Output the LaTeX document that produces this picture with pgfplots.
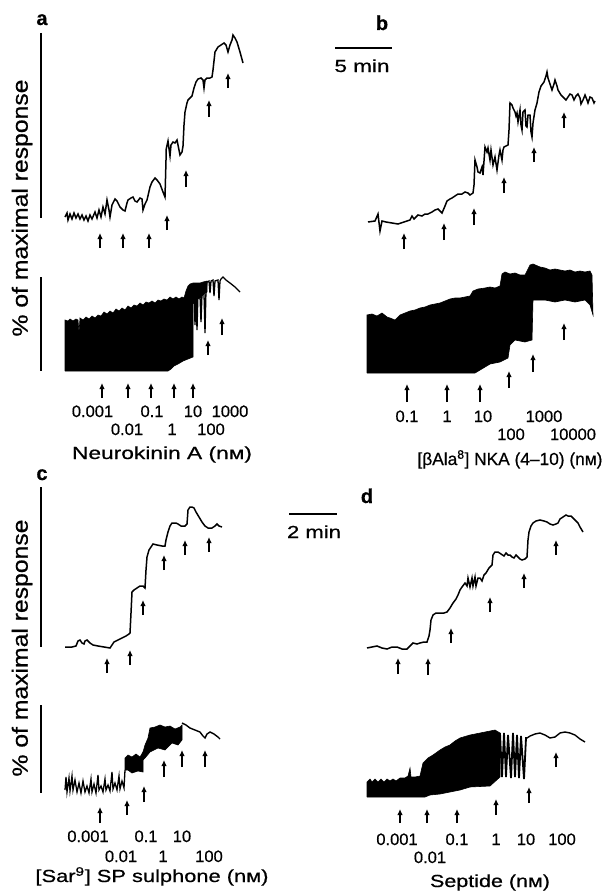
\documentclass[border=0pt]{standalone}
\usepackage{fontspec}
\setmainfont{Liberation Sans}[FakeBold=0.6]
\newfontfamily\boldlet{Liberation Sans Bold}[FakeBold=0.5]
\usepackage{graphicx}
\usepackage{pgfplots}
\pgfplotsset{compat=1.18}
\usetikzlibrary{arrows.meta}
\newcommand{\dg}[1]{{\fontsize{16.5}{16.5}\selectfont #1}}
\newcommand{\ttl}[2]{\resizebox{#1}{\height}{\fontsize{17.5}{17.5}\selectfont #2}}
\begin{document}
\begin{tikzpicture}
\useasboundingbox (0,0) rectangle (605pt,891pt);
\begin{axis}[width=605pt,height=891pt,scale only axis,
  xmin=0,xmax=605,ymin=0,ymax=891,y dir=reverse,hide axis,clip=false]
% ---------- scale bars ----------
\addplot[black,line width=2.2pt] coordinates {(41,33) (41,218)};
\addplot[black,line width=2.2pt] coordinates {(41,277) (41,371)};
\addplot[black,line width=2.2pt] coordinates {(41,487) (41,647)};
\addplot[black,line width=2.2pt] coordinates {(41,705) (41,793)};
\addplot[black,line width=1.6pt] coordinates {(335,48) (392,48)};
\addplot[black,line width=1.6pt] coordinates {(289,514) (337,514)};
% ---------- panel a upper ----------
\addplot[black,line width=1.5pt] coordinates {(65,217)(67,213)(68,220)(70,214)(72,219)(74,213)(76,218)(78,214)(80,219)(82,215)(84,220)(86,216)(88,221)(90,215)(92,219)(95,212)(97,218)(99,210)(101,217)(103,207)(105,214)(107,200)(109,210)(110,217)(112,205)(113,203)(115,199)(117,201)(120,207)(123,210)(125,211)(127,203)(128,200)(131,198)(133,197)(135,201)(137,202)(140,198)(142,199)(143,210)(145,204)(147,200)(150,187)(152,182)(155,178)(157,180)(160,184)(163,192)(165,197)(166,160)(166,150)(168,141)(170,156)(171,145)(173,142)(175,143)(177,140)(179,150)(180,155)(182,152)(183,146)(184,125)(185,112)(187,103)(188,100)(190,98)(192,96)(194,88)(196,82)(198,79)(201,78)(203,80)(204,88)(205,80)(207,78)(210,78)(212,77)(213,70)(215,52)(218,47)(221,45)(224,43)(226,45)(228,52)(230,45)(232,40)(233,35)(235,38)(237,42)(240,52)(243,63)};
% ---------- panel a lower ----------
\addplot[fill=black,draw=black,line width=0.6pt] coordinates {(65,371)(65,320)(68,321)(70,319)(73,321)(76,319)(78,320)(79,333)(80,318)(83,320)(86,317)(89,319)(92,316)(95,318)(98,315)(101,316)(104,312)(107,314)(110,311)(113,313)(116,309)(119,311)(122,308)(125,310)(128,306)(131,308)(134,305)(137,306)(140,303)(143,305)(146,302)(149,303)(152,301)(155,303)(158,300)(161,301)(164,299)(167,300)(170,297)(173,299)(176,297)(179,299)(182,297)(184,298)(186,291)(188,286)(190,284)(193,283)(196,283)(200,283)(203,282)(207,281)(207,292)(204,294)(200,298)(196,300)(193,304)(193,357)(188,359)(183,361)(178,364)(174,366)(171,369)(168,371)(65,371)};
\addplot[black,line width=1.3pt] coordinates {(194,290)(195,325)(196,292)(197,330)(198,292)(200,296)(201,322)(202,294)(204,294)(205,333)(206,290)(207,282)(209,281)(210,293)(211,281)(213,280)(214,296)(215,281)(218,280)(219,300)(220,281)(221,279)(223,277)(226,280)(230,283)(235,287)(240,292)};
% ---------- panel b upper ----------
\addplot[black,line width=1.5pt] coordinates {(368,222)(375,221)(378,214)(380,231)(382,221)(386,222)(392,223)(398,224)(404,222)(410,220)(412,216)(414,219)(416,217)(418,215)(422,216)(425,214)(428,214)(432,212)(435,210)(438,209)(442,213)(445,206)(447,201)(450,199)(452,198)(455,196)(458,194)(462,194)(465,192)(468,193)(470,195)(473,193)(474,185)(475,160)(477,167)(478,172)(480,173)(482,167)(483,175)(485,147)(487,152)(488,148)(490,160)(491,150)(493,165)(495,157)(497,170)(499,155)(500,150)(502,160)(503,150)(504,147)(506,146)(508,145)(509,130)(510,103)(512,105)(513,108)(515,112)(516,116)(517,113)(518,122)(520,110)(521,125)(522,130)(523,112)(525,110)(526,126)(527,127)(528,115)(530,115)(531,132)(532,137)(533,123)(535,110)(537,103)(539,92)(541,86)(544,82)(546,76)(547,72)(548,78)(550,84)(552,90)(554,84)(555,80)(557,86)(558,90)(561,95)(563,97)(566,100)(568,97)(570,94)(572,95)(574,100)(576,96)(578,94)(580,98)(581,104)(583,100)(585,95)(587,100)(588,103)(590,97)(592,98)(594,103)(595,101)};
% ---------- panel b lower ----------
\addplot[fill=black,draw=black,line width=0.6pt] coordinates {(367,373)(367,315)(372,314)(377,316)(382,313)(387,317)(390,318)(395,320)(400,315)(405,313)(410,311)(415,310)(420,308)(425,307)(430,305)(435,304)(440,303)(445,301)(450,299)(455,298)(460,298)(465,297)(470,296)(473,291)(478,289)(485,288)(490,287)(495,288)(500,286)(502,274)(505,272)(510,274)(515,273)(520,275)(525,275)(530,265)(533,264)(540,267)(545,268)(550,270)(555,269)(560,270)(565,271)(570,270)(575,272)(580,271)(585,272)(590,271)(592,275)(593,315)(590,305)(585,300)(575,302)(565,300)(555,302)(545,300)(535,300)(533,300)(532,340)(525,342)(515,340)(510,345)(508,358)(500,362)(490,364)(485,367)(480,370)(475,373)(367,373)};
% ---------- panel c upper ----------
\addplot[black,line width=1.5pt] coordinates {(65,647)(72,647)(76,646)(78,641)(80,640)(82,643)(84,644)(85,641)(87,640)(90,643)(93,645)(98,646)(104,647)(110,648)(112,645)(114,642)(118,640)(122,638)(126,636)(129,634)(130,633)(131,613)(132,592)(134,590)(137,588)(140,586)(143,586)(145,588)(146,570)(147,557)(149,550)(151,547)(153,544)(157,545)(162,546)(165,546)(166,540)(168,532)(170,526)(172,523)(176,523)(178,524)(181,526)(185,526)(187,524)(188,510)(190,507)(192,507)(194,508)(196,512)(199,517)(202,522)(205,526)(208,528)(212,528)(215,526)(217,524)(219,526)(222,527)};
% ---------- panel c lower ----------
\addplot[black,line width=1.3pt] coordinates {(65,790)(66,777)(67,792)(69,778)(70,791)(72,776)(73,790)(75,780)(77,792)(79,783)(81,793)(83,781)(85,792)(87,786)(89,793)(91,779)(92,792)(94,784)(96,793)(98,775)(99,790)(101,786)(103,792)(105,779)(106,790)(108,785)(110,791)(112,772)(113,789)(115,783)(117,790)(119,776)(120,789)(122,781)(124,788)(125,770)};
\addplot[fill=black,draw=black,line width=0.6pt] coordinates {(125,770)(125,758)(128,755)(132,757)(136,754)(140,757)(143,752)(143,772)(138,771)(132,773)(128,770)(125,770)};
\addplot[fill=black,draw=black,line width=0.6pt] coordinates {(143,752)(145,745)(148,738)(150,728)(155,727)(160,725)(165,727)(170,726)(175,729)(180,727)(182,725)(182,740)(178,745)(172,743)(165,750)(158,748)(150,752)(145,758)(143,760)(143,752)};
\addplot[black,line width=1.4pt] coordinates {(182,723)(186,725)(190,728)(195,730)(200,732)(203,736)(205,738)(207,734)(210,732)(214,734)(218,737)(220,739)};
% ---------- panel d upper ----------
\addplot[black,line width=1.5pt] coordinates {(367,648)(372,647)(377,646)(382,648)(387,649)(392,647)(397,647)(402,649)(407,649)(410,646)(413,643)(417,644)(420,643)(424,642)(427,642)(429,636)(430,630)(431,620)(433,615)(436,613)(440,613)(444,613)(447,612)(450,608)(453,603)(456,599)(458,595)(460,590)(462,587)(465,583)(467,586)(468,578)(470,587)(472,578)(473,586)(475,577)(476,586)(478,578)(480,578)(482,581)(484,575)(486,573)(489,568)(492,565)(493,555)(495,552)(498,552)(501,554)(504,556)(506,553)(508,555)(510,555)(512,557)(514,558)(516,555)(518,557)(520,559)(522,560)(525,559)(527,557)(528,540)(529,532)(531,526)(533,523)(536,521)(540,520)(544,521)(547,522)(550,524)(553,525)(556,524)(558,523)(560,519)(563,517)(566,515)(568,516)(571,516)(573,518)(576,521)(578,523)(580,527)(583,532)};
% ---------- panel d lower ----------
\addplot[fill=black,draw=black,line width=0.6pt] coordinates {(367,797)(367,782)(370,779)(372,782)(375,779)(378,782)(381,779)(384,782)(387,779)(390,781)(393,779)(396,781)(400,778)(405,778)(408,776)(410,768)(411,777)(415,777)(420,776)(423,763)(428,758)(433,755)(440,750)(445,747)(450,745)(455,741)(460,738)(470,735)(480,733)(490,731)(495,730)(500,733)(500,777)(490,786)(470,787)(460,790)(450,792)(440,794)(430,795)(425,797)(367,797)};
\addplot[black,line width=1.8pt] coordinates {(500,733)(502,777)(504,733)(506,777)(508,735)(511,778)(513,733)(515,777)(517,735)(519,778)(521,736)(524,779)(526,738)(527,738)};
\addplot[black,line width=1.4pt] coordinates {(527,738)(530,736)(535,734)(540,733)(545,735)(550,738)(555,737)(560,733)(565,732)(570,733)(575,735)(580,739)(585,742)};
% ---------- arrows ----------
\addplot[black,no markers,line width=1.7pt,-{Latex[length=6pt,width=5.5pt]},
  quiver={u=\thisrow{u},v=\thisrow{v}}] table {
x y u v
100 248 0 -15
123 248 0 -15
149 248 0 -15
167 230 0 -15
186 187 0 -17
209 117 0 -17
228 88 0 -15
102 398 0 -15
128 398 0 -15
151 398 0 -15
174 398 0 -15
193 398 0 -15
208 355 0 -15
222 335 0 -17
404 249 0 -16
444 240 0 -17
474 225 0 -17
504 193 0 -16
534 162 0 -15
564 128 0 -16
407 402 0 -18
447 402 0 -18
480 402 0 -18
509 388 0 -17
533 372 0 -18
564 340 0 -17
107 673 0 -15
130 665 0 -15
143 615 0 -15
164 570 0 -15
185 555 0 -15
209 552 0 -15
100 823 0 -16
127 815 0 -15
144 802 0 -16
164 777 0 -17
182 767 0 -17
205 767 0 -17
398 674 0 -16
428 675 0 -17
451 643 0 -15
490 612 0 -15
524 588 0 -15
556 555 0 -15
400 823 0 -14
427 823 0 -14
457 823 0 -14
496 815 0 -16
529 803 0 -16
556 767 0 -15
};
% ---------- texts ----------
\node[anchor=base,font=\fontsize{20}{20}\boldlet] at (axis cs:42,25) {a};
\node[anchor=base,font=\fontsize{20}{20}\boldlet] at (axis cs:382,30) {b};
\node[anchor=base,font=\fontsize{20}{20}\boldlet] at (axis cs:42,480) {c};
\node[anchor=base,font=\fontsize{20}{20}\boldlet] at (axis cs:367,503) {d};
\node[anchor=base] at (axis cs:362,72) {\ttl{55pt}{5 min}};
\node[anchor=base] at (axis cs:314,538) {\ttl{54pt}{2 min}};
\node[rotate=90] at (axis cs:22,208) {\resizebox{257pt}{\height}{\fontsize{22}{22}\selectfont \% of maximal response}};
\node[rotate=90] at (axis cs:22,648) {\resizebox{257pt}{\height}{\fontsize{22}{22}\selectfont \% of maximal response}};
% a doses
\node[anchor=base] at (axis cs:92.5,417) {\dg{0.001}};
\node[anchor=base] at (axis cs:152,417) {\dg{0.1}};
\node[anchor=base] at (axis cs:193,417) {\dg{10}};
\node[anchor=base] at (axis cs:230,417) {\dg{1000}};
\node[anchor=base] at (axis cs:127,435) {\dg{0.01}};
\node[anchor=base] at (axis cs:172,435) {\dg{1}};
\node[anchor=base] at (axis cs:211,435) {\dg{100}};
\node[anchor=base] at (axis cs:162,459) {\ttl{180pt}{Neurokinin A (nм)}};
% b doses
\node[anchor=base] at (axis cs:407,422) {\dg{0.1}};
\node[anchor=base] at (axis cs:447,422) {\dg{1}};
\node[anchor=base] at (axis cs:483,422) {\dg{10}};
\node[anchor=base] at (axis cs:544,422) {\dg{1000}};
\node[anchor=base] at (axis cs:511,440) {\dg{100}};
\node[anchor=base] at (axis cs:573,440) {\dg{10000}};
\node[anchor=base] at (axis cs:510,465) {\ttl{185pt}{[βAla\textsuperscript{8}] NKA (4–10) (nм)}};
% c doses
\node[anchor=base] at (axis cs:88,842) {\dg{0.001}};
\node[anchor=base] at (axis cs:146,842) {\dg{0.1}};
\node[anchor=base] at (axis cs:182,842) {\dg{10}};
\node[anchor=base] at (axis cs:121,862) {\dg{0.01}};
\node[anchor=base] at (axis cs:163,862) {\dg{1}};
\node[anchor=base] at (axis cs:209,862) {\dg{100}};
\node[anchor=base] at (axis cs:152,882) {\ttl{233pt}{[Sar\textsuperscript{9}] SP sulphone (nм)}};
% d doses
\node[anchor=base] at (axis cs:397,845) {\dg{0.001}};
\node[anchor=base] at (axis cs:457,845) {\dg{0.1}};
\node[anchor=base] at (axis cs:496,845) {\dg{1}};
\node[anchor=base] at (axis cs:526,845) {\dg{10}};
\node[anchor=base] at (axis cs:562,845) {\dg{100}};
\node[anchor=base] at (axis cs:430,863) {\dg{0.01}};
\node[anchor=base] at (axis cs:490,887) {\ttl{120pt}{Septide (nм)}};
\end{axis}
\end{tikzpicture}
\end{document}
